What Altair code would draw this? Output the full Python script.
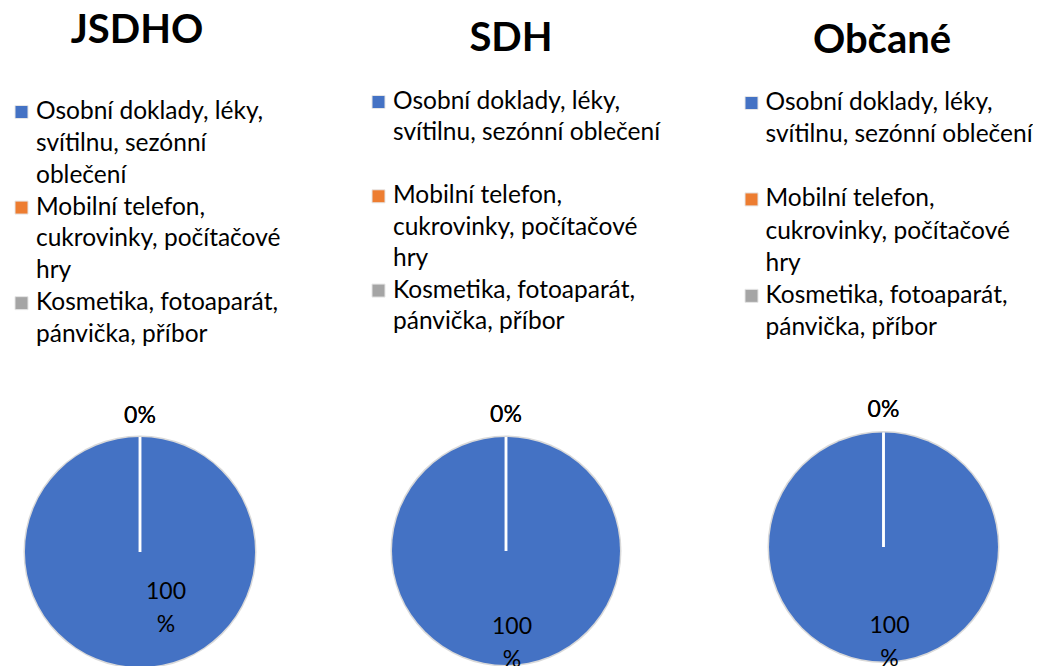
import altair as alt
import pandas as pd

# ---- data ----
groups = ["JSDHO", "SDH", "Občané"]
categories = [
    "Osobní doklady, léky, svítilnu, sezónní oblečení",
    "Mobilní telefon, cukrovinky, počítačové hry",
    "Kosmetika, fotoaparát, pánvička, příbor",
]
colors = ["#4472C4", "#ED7D31", "#A5A5A5"]
values_jsdho = [100, 0, 0]
values_sdh = [100, 0, 0]
values_obcane = [100, 0, 0]

# legend entries as wrapped in each panel
legend_jsdho = [
    ["Osobní doklady, léky,", "svítilnu, sezónní", "oblečení"],
    ["Mobilní telefon,", "cukrovinky, počítačové", "hry"],
    ["Kosmetika, fotoaparát,", "pánvička, příbor"],
]
legend_sdh = [
    ["Osobní doklady, léky,", "svítilnu, sezónní oblečení"],
    ["Mobilní telefon,", "cukrovinky, počítačové", "hry"],
    ["Kosmetika, fotoaparát,", "pánvička, příbor"],
]
legend_obcane = [
    ["Osobní doklady, léky,", "svítilnu, sezónní oblečení"],
    ["Mobilní telefon,", "cukrovinky, počítačové", "hry"],
    ["Kosmetika, fotoaparát,", "pánvička, příbor"],
]
legend_slot_start = [0, 3, 6]

# ---- layout (positions / sizes) ----
layout = {
    "JSDHO": dict(width=350, cx=132, cy=544, r=115, tx=129, ty=23,
                  sq_x=13.5, txt_x=28, ly=(104, 327), lab_r=56, lab_dx=26, zero_r=136),
    "SDH": dict(width=370, cx=148, cy=543, r=114, tx=153, ty=31,
                sq_x=20.5, txt_x=35, ly=(94, 314), lab_r=92, lab_dx=6, zero_r=136),
    "Občané": dict(width=300, cx=155.5, cy=539, r=114.5, tx=154, ty=33,
                   sq_x=23.5, txt_x=37.5, ly=(95, 320), lab_r=95, lab_dx=6, zero_r=137),
}

FONT = "Lato"
LEG_FS = 24.5
LBL_FS = 23
color = alt.Color("category:N", scale=alt.Scale(domain=categories, range=colors), legend=None)


def pct_label(v):
    return f"{v}\n%" if v >= 100 else f"{v}%"


def panel(group, vals, legend_lines):
    L = layout[group]
    pie_df = pd.DataFrame({
        "category": categories,
        "value": vals,
        "idx": list(range(len(categories))),
        "label": [pct_label(v) for v in vals],
    })
    base = alt.Chart(pie_df).encode(
        theta=alt.Theta("value:Q", stack=True),
        order=alt.Order("idx:Q"),
        x=alt.value(L["cx"]),
        y=alt.value(L["cy"]),
    )
    border = base.mark_arc(fill="#d9d9d9").encode(radius=alt.value(L["r"] + 1.5))
    pie = base.mark_arc(stroke="white").encode(
        color=color,
        radius=alt.value(L["r"]),
        strokeWidth=alt.condition("datum.value == 0", alt.value(2.5), alt.value(0)),
    )
    zero_lbl = base.transform_filter("datum.value == 0").mark_text(
        font=FONT, fontSize=LBL_FS, color="black"
    ).encode(text="label:N", radius=alt.value(L["zero_r"]))
    big_lbl = base.transform_filter("datum.value > 0").mark_text(
        font=FONT, fontSize=LBL_FS, color="black", lineBreak="\n", lineHeight=33,
        dx=L["lab_dx"], dy=-16.5
    ).encode(text="label:N", radius=alt.value(L["lab_r"]))

    title = alt.Chart(pd.DataFrame({"t": [group]})).mark_text(
        font=FONT, fontSize=40, fontWeight="bold", color="black"
    ).encode(text="t:N", x=alt.value(L["tx"]), y=alt.value(L["ty"]))

    rows = []
    for cat, lines, s0 in zip(categories, legend_lines, legend_slot_start):
        for i, ln in enumerate(lines):
            rows.append({"category": cat, "line": ln, "slot": s0 + i, "first": i == 0})
    leg_df = pd.DataFrame(rows)
    yenc = alt.Y("slot:Q", scale=alt.Scale(domain=[0, 7], range=list(L["ly"])), axis=None)
    leg_text = alt.Chart(leg_df).mark_text(
        font=FONT, fontSize=LEG_FS, align="left", baseline="middle", color="black"
    ).encode(x=alt.value(L["txt_x"]), y=yenc, text="line:N")
    leg_sq = alt.Chart(leg_df).transform_filter("datum.first").mark_square(
        size=169, opacity=1, stroke="#e6e6e6", strokeWidth=1
    ).encode(x=alt.value(L["sq_x"]), y=yenc, color=color)

    return alt.layer(border, pie, zero_lbl, big_lbl, title, leg_text, leg_sq).properties(
        width=L["width"], height=650
    )


chart = alt.hconcat(
    panel("JSDHO", values_jsdho, legend_jsdho),
    panel("SDH", values_sdh, legend_sdh),
    panel("Občané", values_obcane, legend_obcane),
    spacing=0,
    bounds="flush",
).resolve_scale(y="independent").properties(padding=0).configure(
    font=FONT
).configure_view(strokeWidth=0, stroke="transparent")

chart.save("out.html", embed_options={"renderer": "svg", "actions": False})
